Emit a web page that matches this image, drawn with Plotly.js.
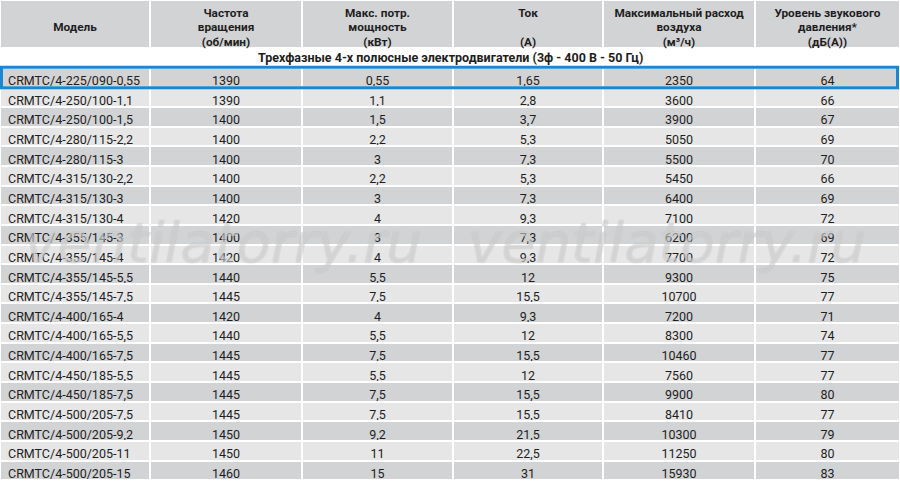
<!DOCTYPE html>
<html><head><meta charset="utf-8">
<script src="https://cdn.plot.ly/plotly-3.0.1.min.js"></script>
<style>html,body{margin:0;padding:0;background:#fff}#chart{width:900px;height:481px}</style>
</head><body><div id="chart"></div>
<script>
// ---- data ----
const headerLine1 = ["", "Частота", "Макс. потр.", "Ток", "Максимальный расход", "Уровень звукового"];
const headerLine2 = ["Модель", "вращения", "мощность", "", "воздуха", "давления*"];
const headerLine3 = ["", "(об/мин)", "(кВт)", "(А)", "(м³/ч)", "(дБ(А))"];
const sectionTitle = "Трехфазные 4-х полюсные электродвигатели (3ф - 400 В - 50 Гц)";
const models = ["CRMTC/4-225/090-0,55","CRMTC/4-250/100-1,1","CRMTC/4-250/100-1,5","CRMTC/4-280/115-2,2","CRMTC/4-280/115-3","CRMTC/4-315/130-2,2","CRMTC/4-315/130-3","CRMTC/4-315/130-4","CRMTC/4-355/145-3","CRMTC/4-355/145-4","CRMTC/4-355/145-5,5","CRMTC/4-355/145-7,5","CRMTC/4-400/165-4","CRMTC/4-400/165-5,5","CRMTC/4-400/165-7,5","CRMTC/4-450/185-5,5","CRMTC/4-450/185-7,5","CRMTC/4-500/205-7,5","CRMTC/4-500/205-9,2","CRMTC/4-500/205-11","CRMTC/4-500/205-15"];
const speed = ["1390","1390","1400","1400","1400","1400","1400","1420","1400","1420","1440","1445","1420","1440","1445","1445","1445","1445","1450","1450","1460"];
const power = ["0,55","1,1","1,5","2,2","3","2,2","3","4","3","4","5,5","7,5","4","5,5","7,5","5,5","7,5","7,5","9,2","11","15"];
const current = ["1,65","2,8","3,7","5,3","7,3","5,3","7,3","9,3","7,3","9,3","12","15,5","9,3","12","15,5","12","15,5","15,5","21,5","22,5","31"];
const airflow = ["2350","3600","3900","5050","5500","5450","6400","7100","6200","7700","9300","10700","7200","8300","10460","7560","9900","8410","10300","11250","15930"];
const noise = ["64","66","67","69","70","66","69","72","69","72","75","77","71","74","77","77","80","77","79","80","83"];
const watermark = "ventilatorry.ru";

// ---- layout constants ----
const W = 900, H = 481;
const headerH = 48, rowH = 19.65, headLineH = 14.5;
const dark = "#d2d3d5", light = "#e6e6e6", ink = "#1e1e1e";
const colW = [150, 152, 151, 150, 152, 145];
const fontFam = "Roboto, sans-serif";

const columns = [models, speed, power, current, airflow, noise];
const cellValues = columns.map(c => [""].concat(c));
const rowFill = ["#ffffff"].concat(models.map((_, i) => i % 2 === 0 ? dark : light));
const cellFill = columns.map(() => rowFill);

// background table: header block + body
const bodyTrace = {
  type: "table",
  domain: {x: [0, 1], y: [0, 1]},
  columnwidth: colW,
  header: {
    values: headerLine1.map(() => ""),
    height: headerH,
    fill: {color: dark},
    line: {color: "#ffffff", width: 2},
    font: {family: fontFam, size: 12, color: ink}
  },
  cells: {
    values: cellValues,
    align: ["left", "center", "center", "center", "center", "center"],
    height: rowH,
    fill: {color: cellFill},
    line: {color: "#ffffff", width: 2},
    font: {family: fontFam, size: 12.5, color: ink}
  }
};

// header labels, one table row per text line, drawn over the header block
const clear = "rgba(0,0,0,0)";
const headFont = {family: fontFam, size: 11.8, color: ink, weight: 700};
const headTrace = {
  type: "table",
  domain: {x: [0, 1], y: [1 - (3 * headLineH + 30) / H, 1]},
  columnwidth: colW,
  header: {
    values: headerLine1,
    align: "center",
    height: headLineH,
    fill: {color: clear},
    line: {color: clear, width: 0},
    font: headFont
  },
  cells: {
    values: headerLine2.map((v, i) => [v, headerLine3[i]]),
    align: "center",
    height: headLineH,
    fill: {color: clear},
    line: {color: clear, width: 0},
    font: headFont
  }
};

const rowTop = headerH + rowH; // first data row top (px)
const wmFont = {family: "DejaVu Sans, sans-serif", size: 56, color: "rgba(255,255,255,0.45)", style: "italic", weight: 300,
                shadow: "0 0 1px rgba(70,70,70,0.75)"};
const layout = {
  width: W, height: H,
  margin: {l: 0, r: 0, t: 0, b: 0},
  paper_bgcolor: "#ffffff",
  showlegend: false,
  annotations: [
    {text: sectionTitle, xref: "paper", yref: "paper", x: 0.5, y: 1 - (headerH + rowH / 2) / H,
     showarrow: false, xanchor: "center", yanchor: "middle",
     font: {family: fontFam, size: 12.5, color: ink, weight: 700}},
    {text: watermark, xref: "paper", yref: "paper", x: 223 / W, y: 1 - 242 / H,
     showarrow: false, xanchor: "center", yanchor: "middle", font: wmFont},
    {text: watermark, xref: "paper", yref: "paper", x: 667 / W, y: 1 - 242 / H,
     showarrow: false, xanchor: "center", yanchor: "middle", font: wmFont}
  ],
  shapes: [
    {type: "rect", xref: "paper", yref: "paper",
     x0: 1.5 / W, x1: 1 - 2.5 / W,
     y0: 1 - (rowTop + rowH + 0.5) / H, y1: 1 - (rowTop - 0.5) / H,
     line: {color: "#1b87d0", width: 3}, fillcolor: "rgba(0,0,0,0)"}
  ]
};

Plotly.newPlot("chart", [bodyTrace, headTrace], layout, {staticPlot: true, displayModeBar: false});
</script>
</body></html>
